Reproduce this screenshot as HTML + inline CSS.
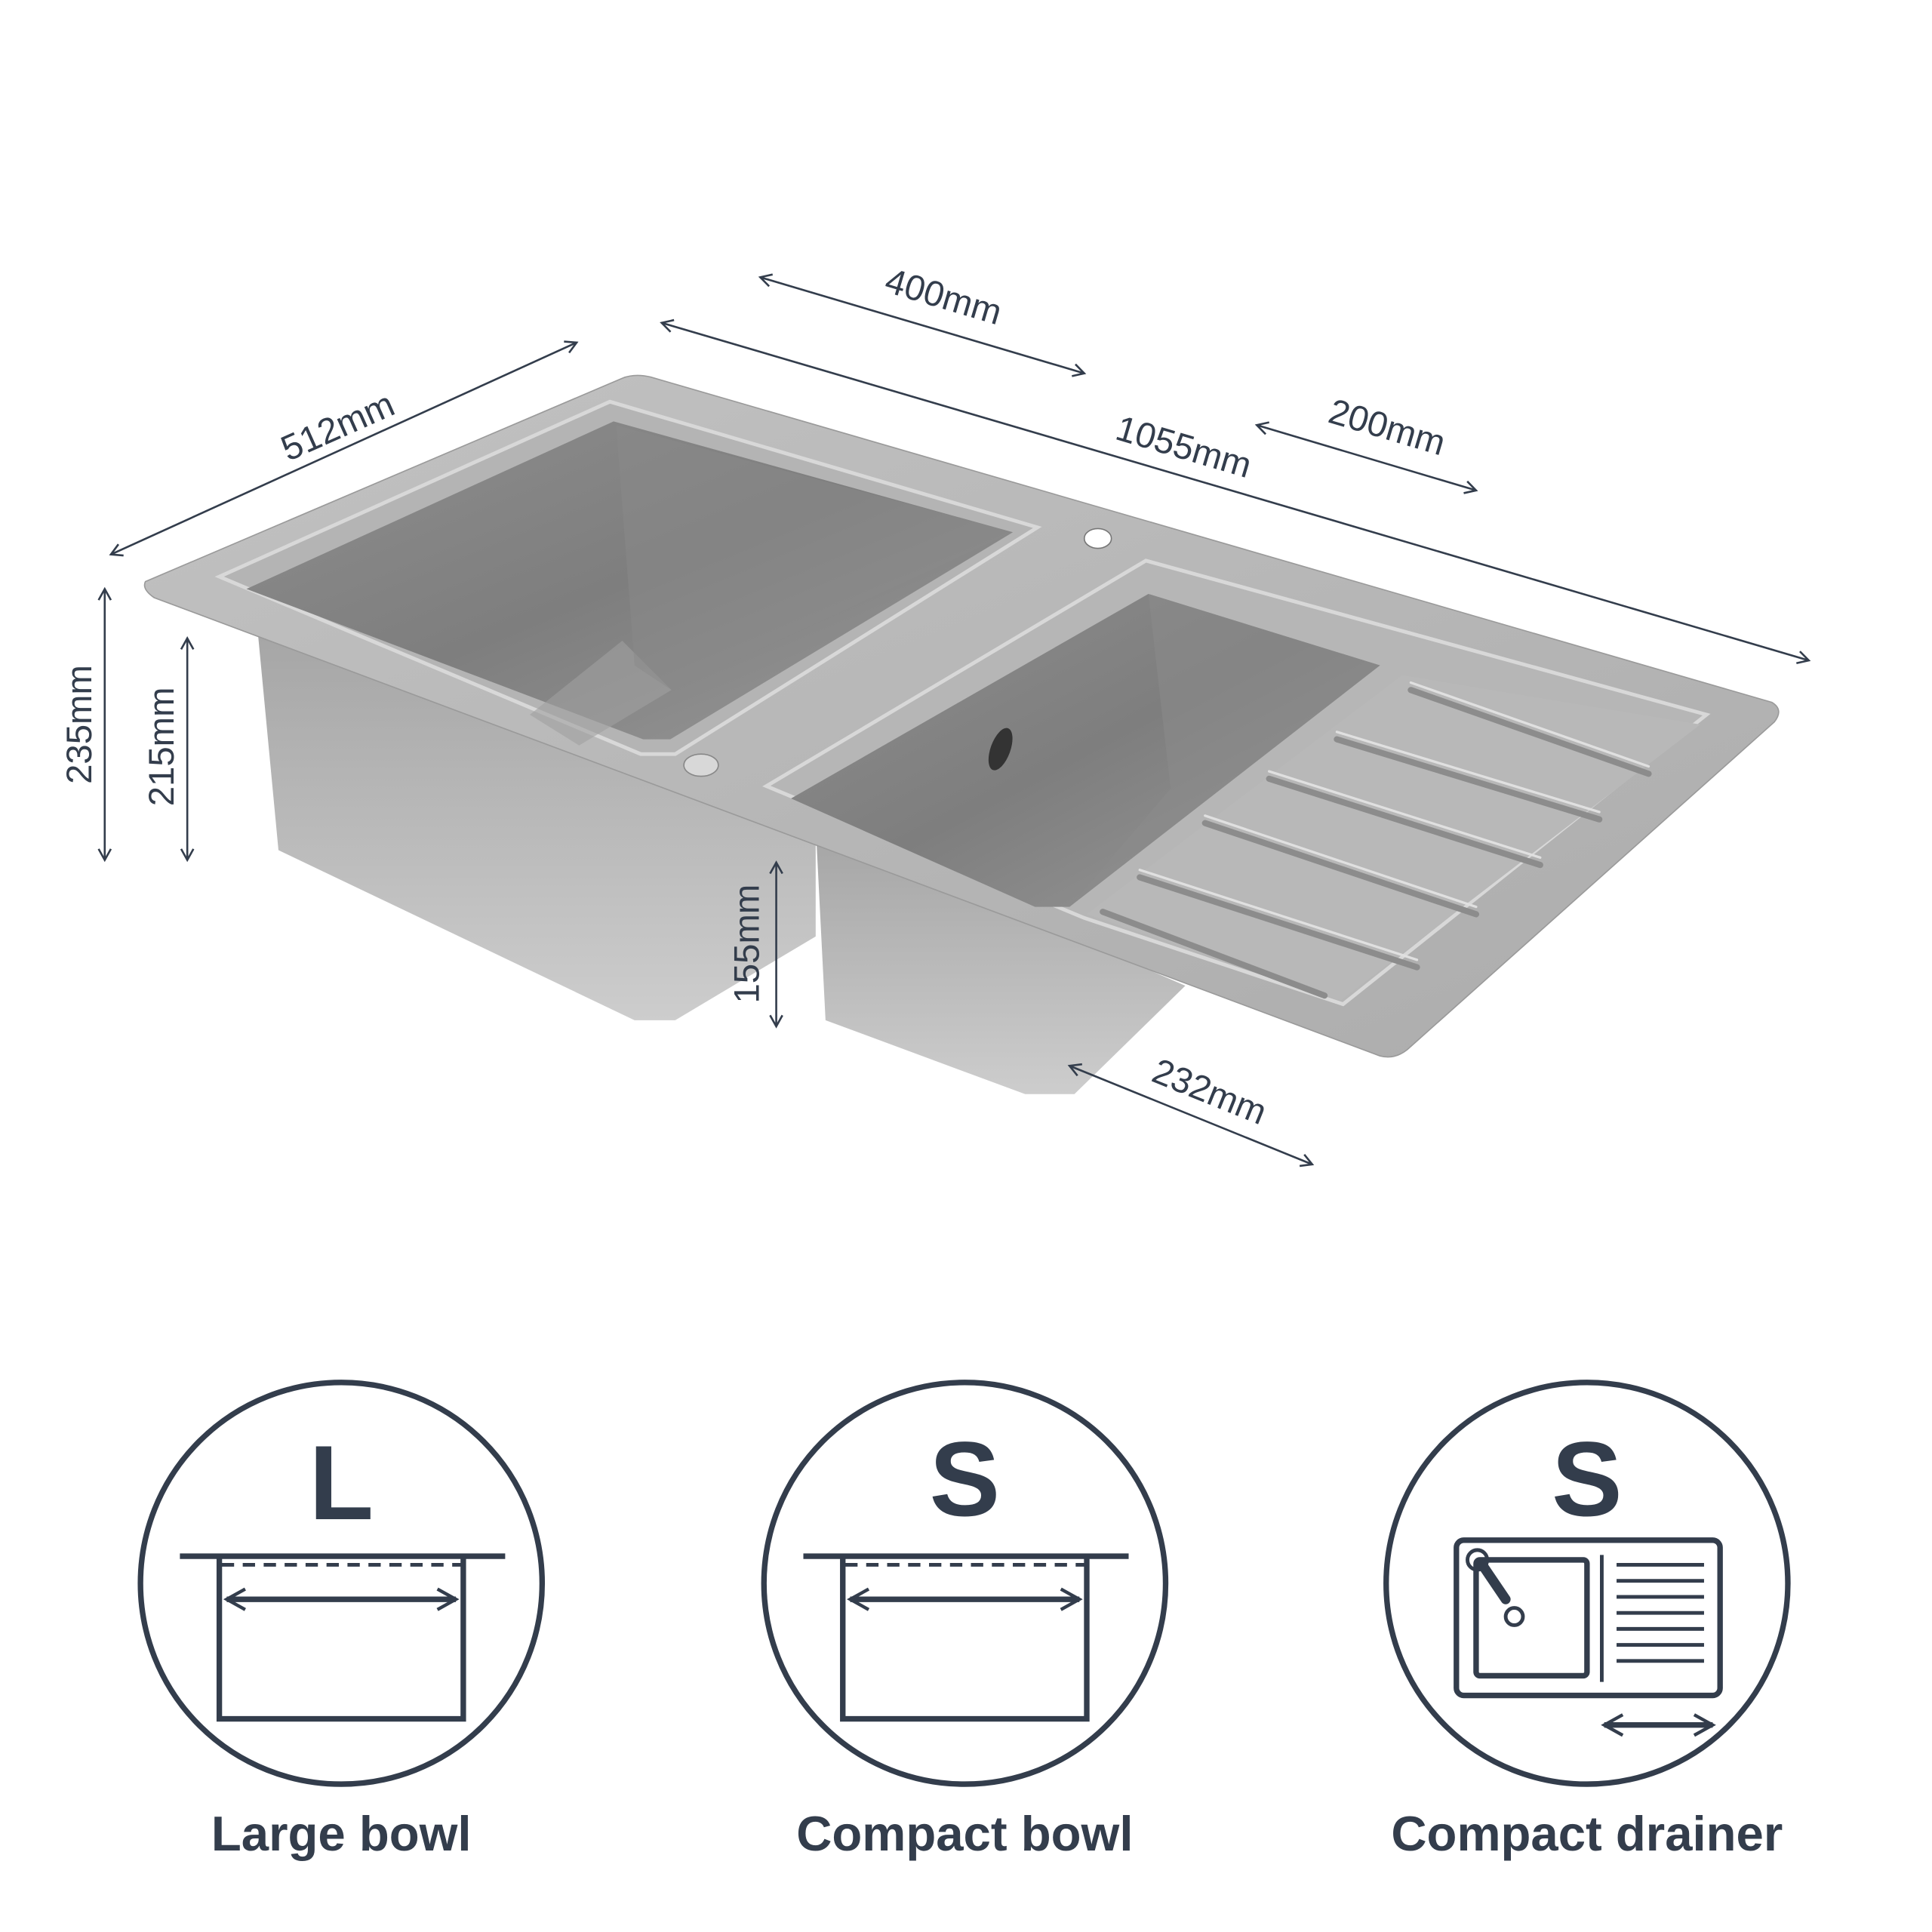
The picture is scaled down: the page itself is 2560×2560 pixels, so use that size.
<!DOCTYPE html>
<html><head><meta charset="utf-8"><style>
html,body{margin:0;padding:0;background:#fff}
svg{display:block}
text{font-family:"Liberation Sans",sans-serif;fill:#333d4c}
</style></head><body>
<svg width="2560" height="2560" viewBox="0 0 1568 1568" xmlns="http://www.w3.org/2000/svg">
<defs>
<marker id="a" viewBox="0 0 12 12" refX="10" refY="6" markerWidth="12" markerHeight="12" orient="auto-start-reverse" markerUnits="userSpaceOnUse">
<path d="M1,1 L10,6 L1,11" fill="none" stroke="#333d4c" stroke-width="1.6"/></marker>
<marker id="b" viewBox="0 0 12 12" refX="10" refY="6" markerWidth="20" markerHeight="20" orient="auto-start-reverse" markerUnits="userSpaceOnUse">
<path d="M1,1 L10,6 L1,11" fill="none" stroke="#333d4c" stroke-width="1.6"/></marker>
<linearGradient id="body" x1="0" y1="0" x2="0" y2="1"><stop offset="0" stop-color="#a4a4a4"/><stop offset="1" stop-color="#cdcdcd"/></linearGradient>
<linearGradient id="top" x1="0" y1="0" x2="1" y2="1"><stop offset="0" stop-color="#c2c2c2"/><stop offset="1" stop-color="#acacac"/></linearGradient>
<linearGradient id="bowl" x1="0" y1="0" x2="1" y2="1"><stop offset="0" stop-color="#8e8e8e"/><stop offset="0.5" stop-color="#7e7e7e"/><stop offset="1" stop-color="#9a9a9a"/></linearGradient>
</defs>
<!-- bowl bodies -->
<polygon points="208,500 662,670 662,760 548,828 515,828 226,690" fill="url(#body)"/>
<polygon points="662,670 962,800 872,888 832,888 670,828" fill="url(#body)"/>
<!-- top plate -->
<path d="M118,472 L505,307 Q515,303 528,306 L1438,570 Q1448,576 1440,586 L1142,852 Q1132,860 1120,857 L125,485 Q115,478 118,472 Z" fill="url(#top)" stroke="#9a9a9a" stroke-width="1"/>
<!-- large bowl -->
<polygon points="178,468 495,326 842,428 548,612 520,612" fill="#b4b4b4" stroke="#d8d8d8" stroke-width="3"/>
<polygon points="200,478 498,342 822,432 544,600 522,600" fill="url(#bowl)"/>
<polygon points="430,580 505,520 545,560 470,605" fill="#a0a0a0" opacity="0.6"/>
<polygon points="500,345 515,540 545,560 822,432" fill="#8a8a8a" opacity="0.5"/>
<!-- small bowl -->
<polygon points="622,638 930,455 1385,580 1090,815 880,745" fill="#b6b6b6" stroke="#d8d8d8" stroke-width="3"/>
<polygon points="642,648 932,482 1120,540 868,736 840,736" fill="url(#bowl)"/>
<polygon points="932,482 950,640 868,736 1120,540" fill="#8c8c8c" opacity="0.5"/>
<ellipse cx="812" cy="608" rx="8" ry="18" fill="#333" transform="rotate(20 812 608)"/>
<!-- drainer -->
<polygon points="882,742 1138,548 1380,588 1088,812" fill="#b8b8b8"/>
<g stroke="#8c8c8c" stroke-width="5" stroke-linecap="round">
<line x1="1145" y1="560" x2="1338" y2="628"/>
<line x1="1085" y1="600" x2="1298" y2="665"/>
<line x1="1030" y1="632" x2="1250" y2="702"/>
<line x1="978" y1="668" x2="1198" y2="742"/>
<line x1="925" y1="712" x2="1150" y2="785"/>
<line x1="895" y1="740" x2="1075" y2="808"/>
</g>
<g stroke="#e0e0e0" stroke-width="2" stroke-linecap="round">
<line x1="1145" y1="554" x2="1338" y2="622"/>
<line x1="1085" y1="594" x2="1298" y2="659"/>
<line x1="1030" y1="626" x2="1250" y2="696"/>
<line x1="978" y1="662" x2="1198" y2="736"/>
<line x1="925" y1="706" x2="1150" y2="779"/>
</g>
<ellipse cx="891" cy="437" rx="11" ry="8" fill="#fff" stroke="#777"/>
<ellipse cx="569" cy="621" rx="14" ry="9" fill="#d8d8d8" stroke="#888"/>
<!-- dimension lines -->
<g stroke="#333d4c" stroke-width="1.6" fill="none">
<line x1="90" y1="450" x2="468" y2="278" marker-start="url(#a)" marker-end="url(#a)"/>
<line x1="537" y1="262" x2="1468" y2="536" marker-start="url(#a)" marker-end="url(#a)"/>
<line x1="617" y1="225" x2="880" y2="303" marker-start="url(#a)" marker-end="url(#a)"/>
<line x1="1020" y1="345" x2="1198" y2="398" marker-start="url(#a)" marker-end="url(#a)"/>
<line x1="868" y1="865" x2="1065" y2="945" marker-start="url(#a)" marker-end="url(#a)"/>
<line x1="85" y1="478" x2="85" y2="698" marker-start="url(#a)" marker-end="url(#a)"/>
<line x1="152" y1="518" x2="152" y2="698" marker-start="url(#a)" marker-end="url(#a)"/>
<line x1="630" y1="700" x2="630" y2="833" marker-start="url(#a)" marker-end="url(#a)"/>
</g>
<g font-size="29" text-anchor="middle">
<text transform="translate(278,355) rotate(-24)">512mm</text>
<text transform="translate(958,372) rotate(16.5)">1055mm</text>
<text transform="translate(763,250) rotate(16.5)">400mm</text>
<text transform="translate(1123,356) rotate(16.5)">200mm</text>
<text transform="translate(978,895) rotate(22)">232mm</text>
<text transform="translate(74,588) rotate(-90)">235mm</text>
<text transform="translate(141,606) rotate(-90)">215mm</text>
<text transform="translate(616,766) rotate(-90)">155mm</text>
</g>
<!-- icons -->
<g stroke="#333d4c" stroke-width="4.5" fill="none">
<circle cx="277" cy="1285" r="163"/>
<circle cx="783" cy="1285" r="163"/>
<circle cx="1288" cy="1285" r="163"/>
<line x1="146" y1="1263" x2="410" y2="1263"/>
<line x1="180" y1="1270" x2="374" y2="1270" stroke-dasharray="10 7" stroke-width="3"/>
<polyline points="178,1263 178,1395 376,1395 376,1263"/>
<line x1="184" y1="1298" x2="370" y2="1298" marker-start="url(#b)" marker-end="url(#b)"/>
<line x1="652" y1="1263" x2="916" y2="1263"/>
<line x1="686" y1="1270" x2="880" y2="1270" stroke-dasharray="10 7" stroke-width="3"/>
<polyline points="684,1263 684,1395 882,1395 882,1263"/>
<line x1="690" y1="1298" x2="876" y2="1298" marker-start="url(#b)" marker-end="url(#b)"/>
<rect x="1182" y="1250" width="214" height="126" rx="6"/>
<rect x="1198" y="1266" width="90" height="94" rx="3"/>
<line x1="1300" y1="1262" x2="1300" y2="1365" stroke-width="3"/>
<g stroke-width="3"><line x1="1312" y1="1270" x2="1383" y2="1270"/><line x1="1312" y1="1283" x2="1383" y2="1283"/><line x1="1312" y1="1296" x2="1383" y2="1296"/><line x1="1312" y1="1309" x2="1383" y2="1309"/><line x1="1312" y1="1322" x2="1383" y2="1322"/><line x1="1312" y1="1335" x2="1383" y2="1335"/><line x1="1312" y1="1348" x2="1383" y2="1348"/></g>
<circle cx="1199" cy="1266" r="8" stroke-width="3"/>
<line x1="1203" y1="1270" x2="1222" y2="1298" stroke-width="8" stroke-linecap="round"/>
<circle cx="1229" cy="1312" r="7" stroke-width="3"/>
<line x1="1302" y1="1400" x2="1390" y2="1400" marker-start="url(#b)" marker-end="url(#b)"/>
</g>
<g text-anchor="middle" font-weight="bold">
<text x="277" y="1233" font-size="86">L</text>
<text x="783" y="1230" font-size="86">S</text>
<text x="1288" y="1230" font-size="86">S</text>
<text x="277" y="1502" font-size="40">Large bowl</text>
<text x="783" y="1502" font-size="40">Compact bowl</text>
<text x="1288" y="1502" font-size="40">Compact drainer</text>
</g>
</svg>
</body></html>
